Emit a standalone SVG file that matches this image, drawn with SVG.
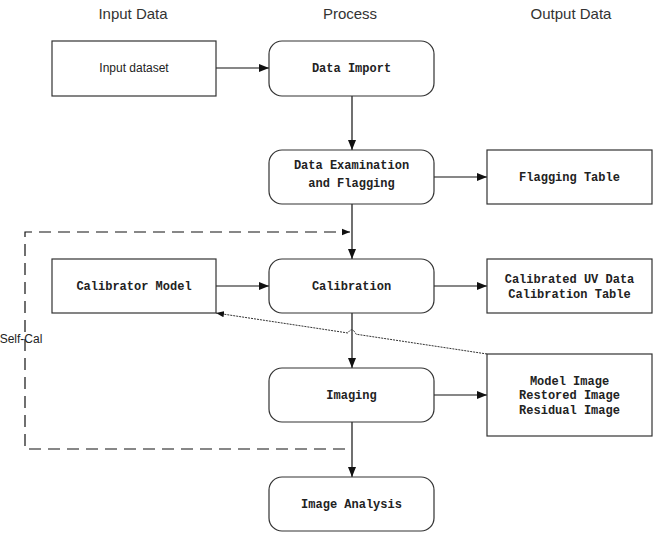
<svg xmlns="http://www.w3.org/2000/svg" width="655" height="534" viewBox="0 0 655 534">
<style>
.hdr{font-family:"Liberation Sans",Arial,sans-serif;font-size:15px;fill:#333;text-anchor:middle}
.box{fill:#fff;stroke:#333;stroke-width:1.2}
.mono{font-family:"Liberation Mono","Courier New",monospace;font-size:12px;font-weight:bold;fill:#222;text-anchor:middle}
.sans{font-family:"Liberation Sans",Arial,sans-serif;font-size:12px;fill:#222;text-anchor:middle}
.ln{fill:none;stroke:#111;stroke-width:1.2}
</style>
<defs>
<marker id="ah" viewBox="0 0 10 10" refX="10" refY="5" markerWidth="10" markerHeight="10" markerUnits="userSpaceOnUse" orient="auto">
<path d="M0,1 L10,5 L0,9 Z" fill="#111"/>
</marker>
<marker id="ahs" viewBox="0 0 10 10" refX="10" refY="5" markerWidth="8" markerHeight="8" markerUnits="userSpaceOnUse" orient="auto">
<path d="M0,1 L10,5 L0,9 Z" fill="#111"/>
</marker>
</defs>
<text class="hdr" x="133" y="19">Input Data</text>
<text class="hdr" x="350" y="19">Process</text>
<text class="hdr" x="571" y="19">Output Data</text>

<g id="connectors">
<line class="ln" x1="216" y1="68" x2="269" y2="68" marker-end="url(#ah)"/>
<line class="ln" x1="352" y1="96" x2="352" y2="150" marker-end="url(#ah)"/>
<line class="ln" x1="434" y1="177" x2="487" y2="177" marker-end="url(#ah)"/>
<line class="ln" x1="352" y1="204" x2="352" y2="259" marker-end="url(#ah)"/>
<line class="ln" x1="216" y1="286" x2="269" y2="286" marker-end="url(#ah)"/>
<line class="ln" x1="434" y1="286" x2="487" y2="286" marker-end="url(#ah)"/>
<line class="ln" x1="352" y1="313" x2="352" y2="368" marker-end="url(#ah)"/>
<line class="ln" x1="434" y1="395" x2="487" y2="395" marker-end="url(#ah)"/>
<line class="ln" x1="352" y1="422" x2="352" y2="477" marker-end="url(#ah)"/>
<path class="ln" d="M345,449 L25,449 L25,232 L350,232" stroke-dasharray="12 7" marker-end="url(#ahs)"/>
<path d="M487,354 L356,334.2 Q352,326 348,333 L216,313" fill="none" stroke="#333" stroke-width="1" stroke-dasharray="2 1" marker-end="url(#ahs)"/>
</g>
<text class="sans" x="21" y="343">Self-Cal</text>

<g id="input-dataset"><rect class="box" x="52" y="41" width="164" height="55"/><text class="sans" x="134" y="72">Input dataset</text></g>
<g id="data-import"><rect class="box" x="269" y="41" width="165" height="55" rx="13"/><text class="mono" x="351.5" y="72">Data Import</text></g>
<g id="data-examination"><rect class="box" x="269" y="150" width="165" height="54" rx="13"/><text class="mono" x="351.5" y="169">Data Examination</text><text class="mono" x="351.5" y="187">and Flagging</text></g>
<g id="flagging-table"><rect class="box" x="487" y="150" width="165" height="54"/><text class="mono" x="569.5" y="181">Flagging Table</text></g>
<g id="calibrator-model"><rect class="box" x="52" y="259" width="164" height="54"/><text class="mono" x="134" y="290">Calibrator Model</text></g>
<g id="calibration"><rect class="box" x="269" y="259" width="165" height="54" rx="13"/><text class="mono" x="351.5" y="290">Calibration</text></g>
<g id="calibrated-uv"><rect class="box" x="487" y="259" width="165" height="54"/><text class="mono" x="569.5" y="283">Calibrated UV Data</text><text class="mono" x="569.5" y="298">Calibration Table</text></g>
<g id="imaging"><rect class="box" x="269" y="368" width="165" height="54" rx="13"/><text class="mono" x="351.5" y="399">Imaging</text></g>
<g id="model-image"><rect class="box" x="487" y="354" width="165" height="82"/><text class="mono" x="569.5" y="385">Model Image</text><text class="mono" x="569.5" y="399">Restored Image</text><text class="mono" x="569.5" y="414">Residual Image</text></g>
<g id="image-analysis"><rect class="box" x="269" y="477" width="165" height="54" rx="13"/><text class="mono" x="351.5" y="508">Image Analysis</text></g>
</svg>
